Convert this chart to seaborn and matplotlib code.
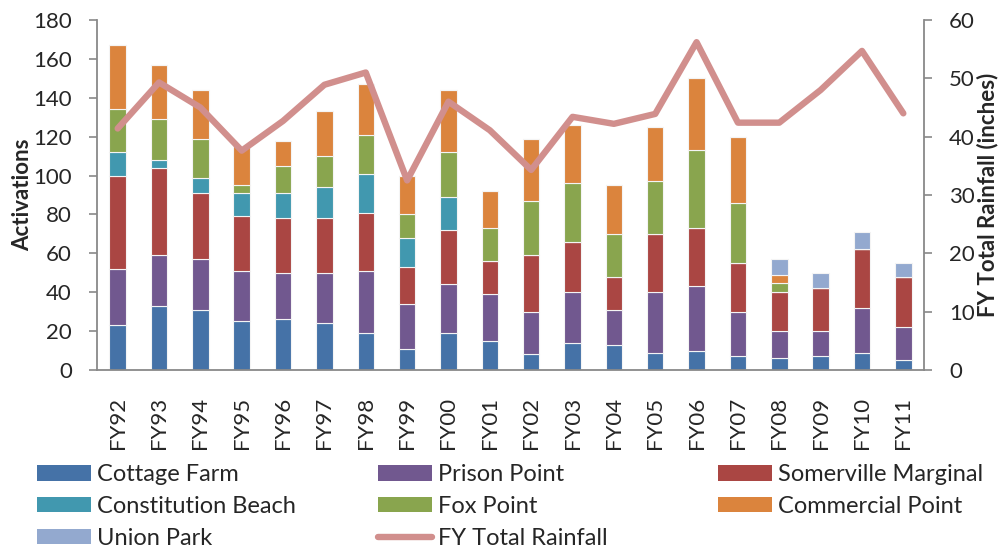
import numpy as np
import matplotlib
matplotlib.use("Agg")
import matplotlib.pyplot as plt
import seaborn as sns
from matplotlib.patches import Patch
from matplotlib.lines import Line2D

# ---- data ----
years = ["FY92", "FY93", "FY94", "FY95", "FY96", "FY97", "FY98", "FY99", "FY00", "FY01",
         "FY02", "FY03", "FY04", "FY05", "FY06", "FY07", "FY08", "FY09", "FY10", "FY11"]
cottage_farm = [23, 33, 31, 25, 26, 24, 19, 11, 19, 15, 8, 14, 13, 9, 10, 7, 6, 7, 9, 5]
prison_point = [29, 26, 26, 26, 24, 26, 32, 23, 25, 24, 22, 26, 18, 31, 33, 23, 14, 13, 23, 17]
somerville_marginal = [48, 45, 34, 28, 28, 28, 30, 19, 28, 17, 29, 26, 17, 30, 30, 25, 20, 22, 30, 26]
constitution_beach = [12, 4, 8, 12, 13, 16, 20, 15, 17, 0, 0, 0, 0, 0, 0, 0, 0, 0, 0, 0]
fox_point = [22, 21, 20, 4, 14, 16, 20, 12, 23, 17, 28, 30, 22, 27, 40, 31, 5, 0, 0, 0]
commercial_point = [33, 28, 25, 20, 13, 23, 26, 20, 32, 19, 32, 30, 25, 28, 37, 34, 4, 0, 0, 0]
union_park = [0, 0, 0, 0, 0, 0, 0, 0, 0, 0, 0, 0, 0, 0, 0, 0, 8, 8, 9, 7]
rainfall = [41.4, 49.3, 45.0, 37.6, 42.7, 48.9, 51.0, 32.5, 46.0, 41.1,
            34.3, 43.4, 42.2, 43.9, 56.2, 42.4, 42.4, 48.0, 54.7, 44.0]

series = [
    ("Cottage Farm", cottage_farm, "#4572A7"),
    ("Prison Point", prison_point, "#71588F"),
    ("Somerville Marginal", somerville_marginal, "#AA4643"),
    ("Constitution Beach", constitution_beach, "#4198AF"),
    ("Fox Point", fox_point, "#89A54E"),
    ("Commercial Point", commercial_point, "#DB843D"),
    ("Union Park", union_park, "#93A9CF"),
]
line_color = "#D18F8D"
spine_color = "#898989"

sns.set_style("white")
plt.rcParams["font.family"] = ["Lato", "DejaVu Sans"]
plt.rcParams["font.size"] = 16

fig = plt.figure(figsize=(10.08, 5.48), dpi=100)
ax = fig.add_axes([97 / 1008, 1 - 370 / 548, (924 - 97) / 1008, 350 / 548])

# stacked bars
bottom = np.zeros(len(years))
for name, vals, col in series:
    sns.barplot(x=years, y=vals, bottom=bottom, color=col, saturation=1, width=0.4,
                edgecolor="#f4f4f4", linewidth=0.8, ax=ax)
    bottom = bottom + np.array(vals)

ax.set_ylim(0, 180)
ax.set_yticks(np.arange(0, 181, 20))
ax.set_xlim(-0.5, len(years) - 0.5)
ax.set_ylabel("Activations", fontweight="bold", labelpad=0)
ax.set_xlabel("")
ax.set_xticks(np.arange(len(years)))
ax.set_xticklabels(years, rotation=90)
ax.set_xticks(np.arange(len(years) + 1) - 0.5, minor=True)
ax.tick_params(axis="x", which="major", length=0, pad=19)
ax.tick_params(axis="x", which="minor", length=6, width=1.2, color=spine_color, direction="out")
ax.tick_params(axis="y", length=6, width=1.2, color=spine_color, direction="out", pad=12, left=True)

# rainfall line on secondary axis
ax2 = ax.twinx()
sns.lineplot(x=np.arange(len(years)), y=rainfall, color=line_color, linewidth=4.6, ax=ax2)
ax2.set_ylim(0, 60)
ax2.set_yticks(np.arange(0, 61, 10))
ax2.set_ylabel("FY Total Rainfall (inches)", fontweight="bold", labelpad=1)
ax2.tick_params(axis="y", length=6, width=1.2, color=spine_color, direction="out", pad=12, right=True)

for a in (ax, ax2):
    a.spines["top"].set_visible(False)
    for s in ("left", "right", "bottom"):
        a.spines[s].set_color(spine_color)
        a.spines[s].set_linewidth(1.3)
ax.spines["right"].set_visible(False)
ax2.spines["left"].set_visible(False)
ax2.spines["bottom"].set_visible(False)

# legend: three columns, placed like the original
handles = {name: Patch(facecolor=col, edgecolor="none") for name, _, col in series}
handles["FY Total Rainfall"] = Line2D([], [], color=line_color, linewidth=4.6)
columns = [
    (37, ["Cottage Farm", "Constitution Beach", "Union Park"]),
    (378, ["Prison Point", "Fox Point", "FY Total Rainfall"]),
    (718, ["Somerville Marginal", "Commercial Point"]),
]
for xpix, names in columns:
    fig.legend([handles[n] for n in names], names, loc="upper left",
               bbox_to_anchor=(xpix / 1008, 1 - 464 / 548), frameon=False,
               borderpad=0, borderaxespad=0, handlelength=2.3, handleheight=0.65,
               handletextpad=0.25, labelspacing=0.46, fontsize=17)

fig.savefig("out.png", dpi=100)
